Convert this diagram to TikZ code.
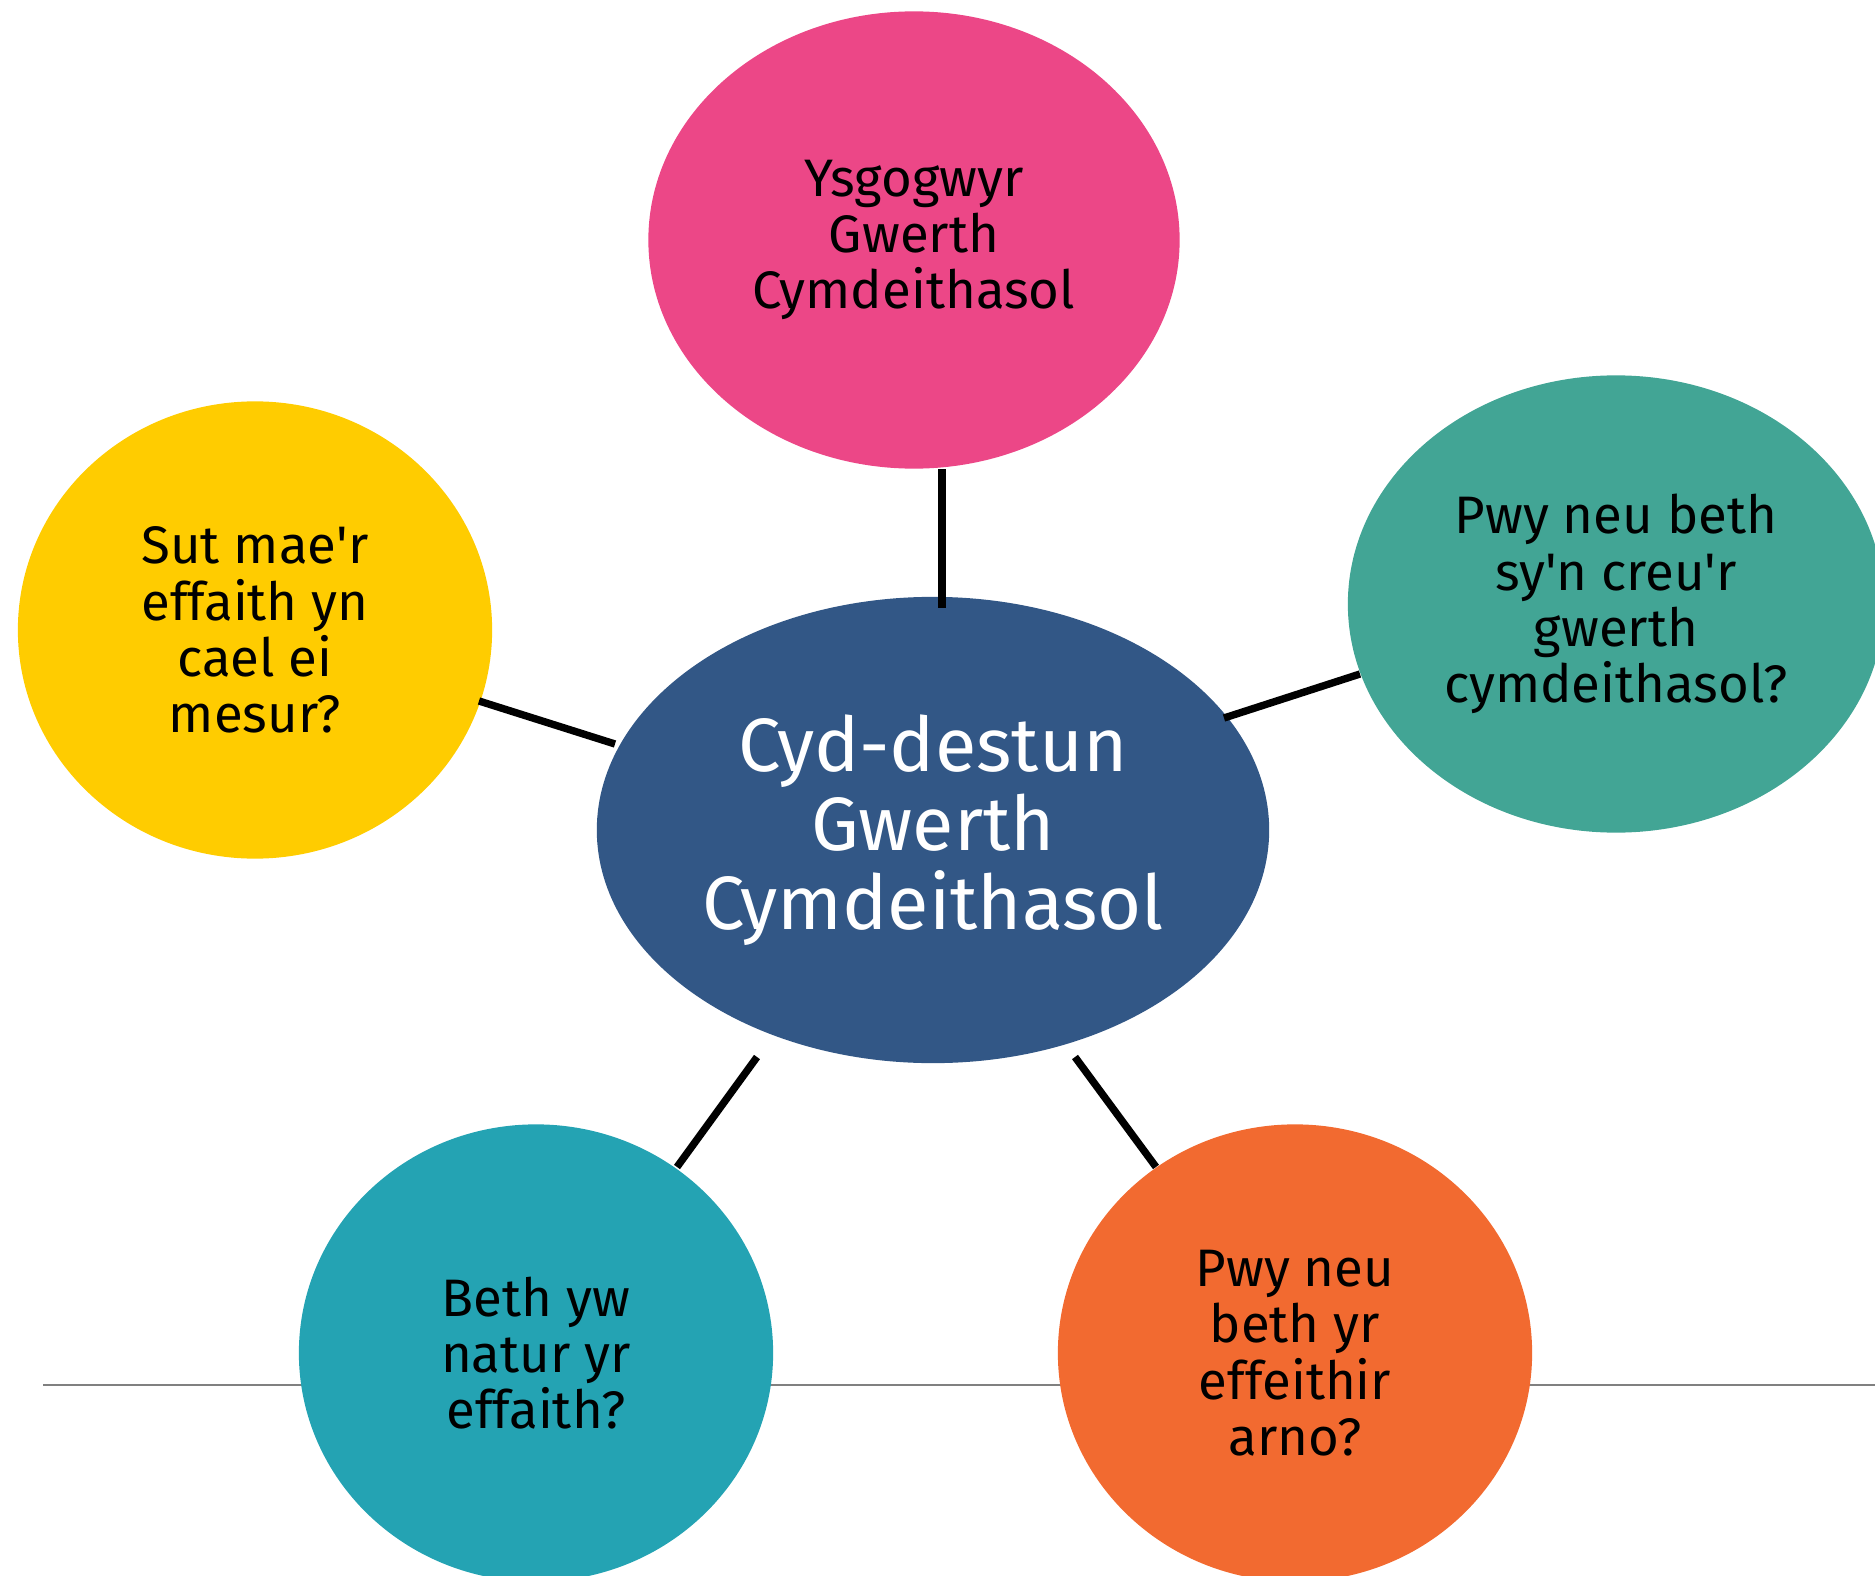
\documentclass[tikz,border=0pt]{standalone}
\usepackage{fontspec}
\setmainfont{Fira Sans}
\usepackage{tikz}
\usetikzlibrary{shapes.geometric}
\definecolor{pinkc}{HTML}{EC4787}
\definecolor{yellowc}{HTML}{FFCC00}
\definecolor{greenc}{HTML}{42A595}
\definecolor{bluec}{HTML}{325786}
\definecolor{cyanc}{HTML}{24A3B3}
\definecolor{orangec}{HTML}{F26A30}
\newcommand{\ap}{\textquotesingle}
\tikzset{bubble/.style={ellipse, draw=none, inner sep=0pt, align=center, text=black,
    font=\fontsize{15}{16}\selectfont, minimum width=4.74cm, minimum height=4.57cm},
  hub/.style={bubble, text=white, font=\fontsize{21.5}{22.5}\selectfont, minimum width=6.72cm, minimum height=4.66cm},
  link/.style={line width=2.1pt, black}}

\begin{document}
\begin{tikzpicture}[x=0.01cm, y=-0.01cm]
      \useasboundingbox (0,0) rectangle (1875,1576);
      \clip (0,0) rectangle (1875,1576);
      \draw [gray, line width=0.5pt] (43,1385) -- (1875,1385);
      \node [hub, fill=bluec] (cdc) at (933,830) {Cyd-destun\\Gwerth\\Cymdeithasol};
      \node [bubble, fill=pinkc, minimum width=5.31cm] (drivers) at (914,240) {Ysgogwyr\\Gwerth\\Cymdeithasol};
      \node [bubble, fill=yellowc] (measure) at (255,630) {Sut mae\ap r\\effaith yn\\cael ei\\mesur?};
      \node [bubble, fill=greenc, minimum width=5.36cm] (creator) at (1616,604) {Pwy neu beth\\sy\ap n creu\ap r\\gwerth\\cymdeithasol?};
      \node [bubble, fill=cyanc] (nature) at (536,1353) {Beth yw\\natur yr\\effaith?};
      \node [bubble, fill=orangec] (affected) at (1295,1353) {Pwy neu\\beth yr\\effeithir\\arno?};
      \coordinate (drivers-end) at (942,469);
      \coordinate (cdc-top) at (942,608);
      \coordinate (creator-end) at (1360,674);
      \coordinate (cdc-right) at (1224,718);
      \coordinate (measure-end) at (479,701);
      \coordinate (cdc-left) at (615,744);
      \coordinate (cdc-bl) at (757,1057);
      \coordinate (nature-end) at (677,1167);
      \coordinate (cdc-br) at (1075,1057);
      \coordinate (affected-end) at (1156,1167);
      \draw [link] (drivers-end) -- (cdc-top);
      \draw [link] (creator-end) -- (cdc-right);
      \draw [link] (measure-end) -- (cdc-left);
      \draw [link] (cdc-bl) -- (nature-end);
      \draw [link] (cdc-br) -- (affected-end);
    \end{tikzpicture}
\end{document}
